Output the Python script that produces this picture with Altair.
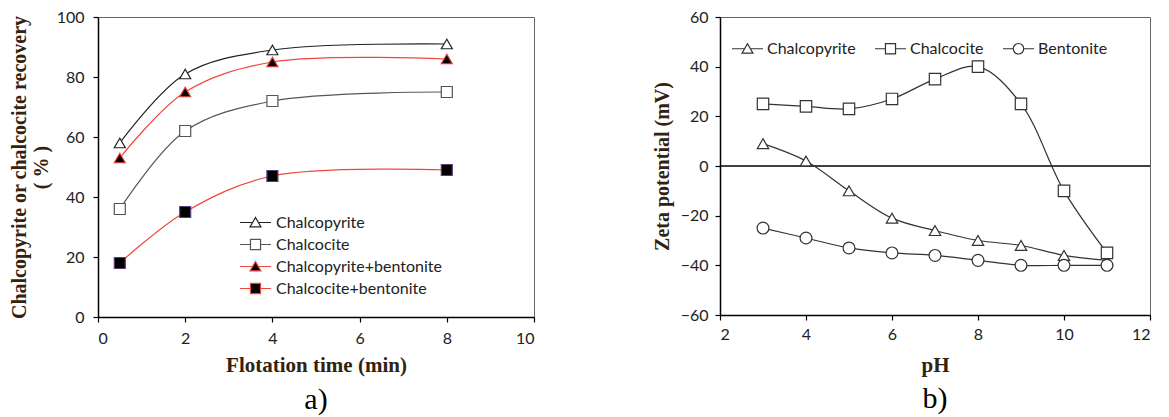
import altair as alt
import pandas as pd

# ---------------- panel a) data ----------------
time_min = [0.5, 2, 4, 8]
rec_chalcopyrite = [58, 81, 89, 91]
rec_chalcocite = [36, 62, 72, 75]
rec_chalcopyrite_bent = [53, 75, 85, 86]
rec_chalcocite_bent = [18, 35, 47, 49]
series_a = ["Chalcopyrite", "Chalcocite", "Chalcopyrite+bentonite", "Chalcocite+bentonite"]

# ---------------- panel b) data ----------------
ph_values = [3, 4, 5, 6, 7, 8, 9, 10, 11]
zeta_chalcopyrite = [9, 2, -10, -21, -26, -30, -32, -36, -38]
zeta_chalcocite = [25, 24, 23, 27, 35, 40, 25, -10, -35]
zeta_bentonite = [-25, -29, -33, -35, -36, -38, -40, -40, -40]
series_b = ["Chalcopyrite", "Chalcocite", "Bentonite"]
zero_line = [0]

# styles
line_colors_a = ["#222222", "#555555", "#f0473c", "#f0473c"]
fill_a = ["white", "white", "black", "black"]
stroke_a = ["#222222", "#555555", "#e8413a", "#5a3f7a"]
shapes_a = ["triangle-up", "square", "triangle-up", "square"]

TRI_LEG = "M-1.48,0L-0.27,0M0.27,0L1.48,0M0,-0.48L0.52,0.42L-0.52,0.42Z"
SQ_LEG = "M-1.48,0L-0.48,0M0.48,0L1.48,0M-0.48,-0.48L0.48,-0.48L0.48,0.48L-0.48,0.48Z"
CIR_LEG = "M-1.48,0L-0.5,0M0.5,0L1.48,0M0.5,0A0.5,0.5 0 1,1 -0.5,0A0.5,0.5 0 1,1 0.5,0Z"
legend_shapes_a = [TRI_LEG, SQ_LEG, TRI_LEG, SQ_LEG]
legend_shapes_b = [TRI_LEG, SQ_LEG, CIR_LEG]
shapes_b = ["triangle-up", "square", "circle"]

df_a = pd.DataFrame({
    "time": time_min * 4,
    "recovery": rec_chalcopyrite + rec_chalcocite + rec_chalcopyrite_bent + rec_chalcocite_bent,
    "series": sum([[s] * len(time_min) for s in series_a], []),
})
df_b = pd.DataFrame({
    "pH": ph_values * 3,
    "zeta": zeta_chalcopyrite + zeta_chalcocite + zeta_bentonite,
    "series": sum([[s] * len(ph_values) for s in series_b], []),
})
df_zero = pd.DataFrame({"z": zero_line})

TITLE_COLOR = "#33220f"

# ---------------- panel a ----------------
xa = alt.X("time:Q", scale=alt.Scale(domain=[0, 10], nice=False),
           axis=alt.Axis(values=[0, 2, 4, 6, 8, 10], title="Flotation time (min)",
                         labelPadding=8, titlePadding=8, titleFontSize=21))
ya = alt.Y("recovery:Q", scale=alt.Scale(domain=[0, 100], nice=False),
           axis=alt.Axis(values=[0, 20, 40, 60, 80, 100],
                         title=["Chalcopyrite or chalcocite recovery", "( % )"],
                         labelPadding=9, titlePadding=5, titleLineHeight=22, titleFontSize=20))

lines_a = alt.Chart(df_a).mark_line(interpolate="catmull-rom", strokeWidth=1.2).encode(
    x=xa, y=ya,
    color=alt.Color("series:N", scale=alt.Scale(domain=series_a, range=line_colors_a), legend=None),
)
marker_layers_a = []
for s, shp, f, st in zip(series_a, shapes_a, fill_a, stroke_a):
    marker_layers_a.append(
        alt.Chart(df_a).transform_filter(alt.datum.series == s).mark_point(
            shape=shp, size=121, filled=True, fill=f, stroke=st, strokeWidth=1.2, opacity=1
        ).encode(x=xa, y=ya)
    )

leg_a = alt.Legend(title=None, orient="none", legendX=146, legendY=194, direction="vertical",
                   symbolSize=441, symbolStrokeWidth=1.2, symbolOpacity=1, labelOffset=9,
                   rowPadding=2, padding=0, labelFont="Lato", labelFontSize=16, labelColor="#222",
                   labelLimit=400)
legend_layer_a = alt.Chart(df_a).mark_point(opacity=0, filled=True).encode(
    x=xa, y=ya,
    shape=alt.Shape("series:N", scale=alt.Scale(domain=series_a, range=legend_shapes_a), legend=leg_a),
    fill=alt.Fill("series:N", scale=alt.Scale(domain=series_a, range=fill_a), legend=leg_a),
    stroke=alt.Stroke("series:N", scale=alt.Scale(domain=series_a, range=line_colors_a), legend=leg_a),
)

panel_a = alt.layer(lines_a, *marker_layers_a, legend_layer_a).properties(
    width=436, height=300,
    title=alt.TitleParams("a)", orient="bottom", font="Liberation Serif", fontSize=30,
                          fontWeight="normal", color="black", offset=10, anchor="middle"),
)

# ---------------- panel b ----------------
xb = alt.X("pH:Q", scale=alt.Scale(domain=[2, 12], nice=False),
           axis=alt.Axis(values=[2, 4, 6, 8, 10, 12], title="pH", labelPadding=6, titlePadding=12,
                         titleFontSize=21))
yb = alt.Y("zeta:Q", scale=alt.Scale(domain=[-60, 60], nice=False),
           axis=alt.Axis(values=[-60, -40, -20, 0, 20, 40, 60], title="Zeta potential (mV)",
                         labelPadding=7, titlePadding=8, titleFontSize=20))

zero_rule = alt.Chart(df_zero).mark_rule(color="black", strokeWidth=1.5).encode(y=alt.Y("z:Q"))
lines_b = alt.Chart(df_b).mark_line(interpolate="catmull-rom", strokeWidth=1.2, color="#333333").encode(
    x=xb, y=yb, detail="series:N"
)
marker_layers_b = []
for s, shp in zip(series_b, shapes_b):
    marker_layers_b.append(
        alt.Chart(df_b).transform_filter(alt.datum.series == s).mark_point(
            shape=shp, size=130 if shp != "circle" else 140, filled=True, fill="white",
            stroke="#333333", strokeWidth=1.2, opacity=1
        ).encode(x=xb, y=yb)
    )
leg_b = alt.Legend(title=None, orient="none", legendX=16, legendY=20, direction="horizontal",
                   symbolSize=441, symbolStrokeWidth=1.2, symbolOpacity=1, labelOffset=8,
                   columnPadding=16, padding=0, labelFont="Lato", labelFontSize=16, labelColor="#222",
                   labelLimit=400)
legend_layer_b = alt.Chart(df_b).mark_point(opacity=0, filled=True).encode(
    x=xb, y=yb,
    shape=alt.Shape("series:N", scale=alt.Scale(domain=series_b, range=legend_shapes_b), legend=leg_b),
    fill=alt.Fill("series:N", scale=alt.Scale(domain=series_b, range=["white"] * 3), legend=leg_b),
    stroke=alt.Stroke("series:N", scale=alt.Scale(domain=series_b, range=["#333333"] * 3), legend=leg_b),
)

panel_b = alt.layer(zero_rule, lines_b, *marker_layers_b, legend_layer_b).properties(
    width=430, height=298,
    title=alt.TitleParams("b)", orient="bottom", font="Liberation Serif", fontSize=30,
                          fontWeight="normal", color="black", offset=9, anchor="middle"),
)

chart = alt.hconcat(panel_a, panel_b, spacing=115).resolve_scale(
    shape="independent", fill="independent", stroke="independent"
).properties(
    padding={"left": 0, "top": 0, "right": 5, "bottom": 0}
).configure_view(
    stroke="#666666", strokeWidth=1
).configure_axis(
    domainColor="black", domainWidth=1.5, tickColor="black", tickWidth=1.2, tickSize=5,
    grid=False, labelFont="Lato", labelFontSize=16, labelColor="#222222",
    titleFont="Liberation Serif", titleFontWeight="bold", titleColor=TITLE_COLOR,
)

chart.save("out.html", embed_options={"renderer": "svg", "actions": False})
